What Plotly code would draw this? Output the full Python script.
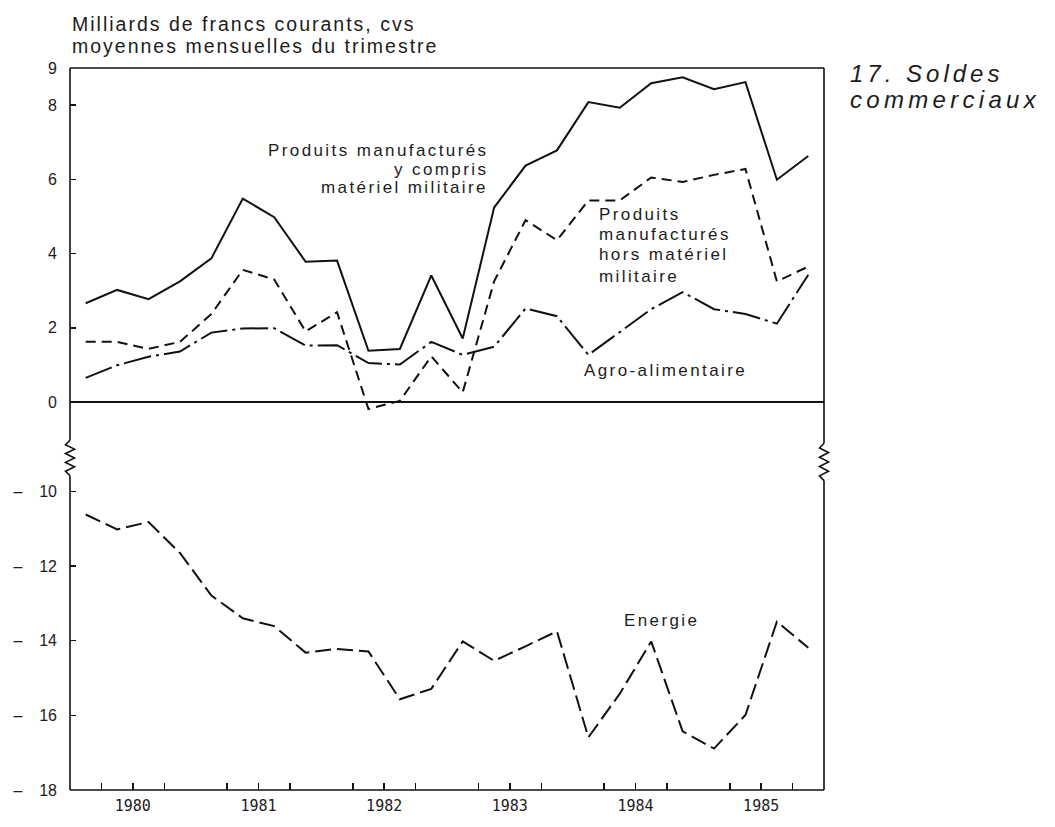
import plotly.graph_objects as go

# ---------------- data ----------------
quarters = [1980.125, 1980.375, 1980.625, 1980.875,
            1981.125, 1981.375, 1981.625, 1981.875,
            1982.125, 1982.375, 1982.625, 1982.875,
            1983.125, 1983.375, 1983.625, 1983.875,
            1984.125, 1984.375, 1984.625, 1984.875,
            1985.125, 1985.375, 1985.625, 1985.875]

manuf_total = [2.66, 3.02, 2.77, 3.25, 3.87, 5.48, 4.98, 3.78, 3.81, 1.38, 1.43, 3.41,
               1.71, 5.24, 6.37, 6.78, 8.08, 7.93, 8.59, 8.75, 8.43, 8.62, 5.99, 6.63]
manuf_hors = [1.62, 1.62, 1.43, 1.62, 2.37, 3.56, 3.30, 1.90, 2.42, -0.19, 0.03, 1.23,
              0.26, 3.25, 4.90, 4.36, 5.43, 5.43, 6.05, 5.93, 6.12, 6.28, 3.25, 3.65]
agro = [0.65, 0.99, 1.22, 1.36, 1.87, 1.98, 1.99, 1.52, 1.53, 1.05, 1.01, 1.62,
        1.27, 1.49, 2.52, 2.31, 1.27, 1.89, 2.50, 2.96, 2.50, 2.37, 2.11, 3.43]
energie = [-10.62, -11.02, -10.82, -11.65, -12.79, -13.40, -13.61, -14.32, -14.22, -14.29,
           -15.57, -15.29, -14.02, -14.54, -14.15, -13.75, -16.59, -15.42, -14.02, -16.43,
           -16.89, -15.99, -13.49, -14.19]

year_labels = ["1980", "1981", "1982", "1983", "1984", "1985"]
year_label_pos = [1980.5, 1981.5, 1982.5, 1983.5, 1984.5, 1985.5]
year_bounds = [1981, 1982, 1983, 1984, 1985]
quarter_ticks = [1980.25, 1980.75, 1981.25, 1981.75, 1982.25, 1982.75,
                 1983.25, 1983.75, 1984.25, 1984.75, 1985.25, 1985.75]
top_tickvals = [0, 2, 4, 6, 8, 9]
top_ticktext = ["0", "2", "4", "6", "8", "9"]
bot_tickvals = [-10, -12, -14, -16, -18]
bot_ticktext = ["\u2013\u2002\u00a0\u00a010", "\u2013\u2002\u00a0\u00a012",
                "\u2013\u2002\u00a0\u00a014", "\u2013\u2002\u00a0\u00a016",
                "\u2013\u2002\u00a0\u00a018"]

# ---------------- layout geometry ----------------
W, H = 1055, 827
L, R, T, B = 70, 824, 68, 803
SPLIT = 465


def px(x):
    return (x - L) / (R - L)


def py(y):
    return (B - y) / (B - T)


split = py(SPLIT)
INK = "#111111"
TXT = "#1c1c1c"
SANS = "Liberation Sans, Arial, Helvetica, sans-serif"

fig = go.Figure()

fig.add_trace(go.Scatter(x=quarters, y=manuf_total, xaxis="x", yaxis="y", mode="lines",
                         line=dict(color=INK, width=2), showlegend=False))
fig.add_trace(go.Scatter(x=quarters, y=manuf_hors, xaxis="x", yaxis="y", mode="lines",
                         line=dict(color=INK, width=2, dash="10px,6px"), showlegend=False))
fig.add_trace(go.Scatter(x=quarters, y=agro, xaxis="x", yaxis="y", mode="lines",
                         line=dict(color=INK, width=2, dash="28px,5px,3px,5px"), showlegend=False))
fig.add_trace(go.Scatter(x=quarters, y=energie, xaxis="x", yaxis="y2", mode="lines",
                         line=dict(color=INK, width=2, dash="16px,6px"), showlegend=False))

tickfont = dict(family=SANS, size=16, color=TXT)

fig.update_layout(
    width=W, height=H,
    margin=dict(l=L, r=W - R, t=T, b=H - B, pad=0),
    paper_bgcolor="white", plot_bgcolor="white",
    showlegend=False,
    xaxis=dict(domain=[0, 1], anchor="y2", range=[1980, 1986],
               tickmode="array", tickvals=year_label_pos, ticktext=year_labels,
               ticks="inside", ticklen=7, tickwidth=1.5, tickcolor=INK,
               tickfont=dict(family="DejaVu Sans Mono, monospace", size=15, color=TXT),
               ticklabelstandoff=5,
               minor=dict(tickmode="array", tickvals=quarter_ticks, ticks="inside",
                          ticklen=7, tickwidth=1.5, tickcolor=INK, showgrid=False),
               showgrid=False, zeroline=False, showline=False, fixedrange=True),
    xaxis2=dict(overlaying="x", anchor="y2", range=[1980, 1986],
                tickmode="array", tickvals=year_bounds, ticks="inside", ticklen=14,
                tickwidth=1.5, tickcolor=INK, showticklabels=False,
                showgrid=False, zeroline=False, showline=False),
    yaxis=dict(domain=[split, 1], anchor="x",
               range=[-(SPLIT - 408) / ((408 - T) / 9), 9],
               tickmode="array", tickvals=top_tickvals, ticktext=top_ticktext,
               ticks="inside", ticklen=6, tickwidth=1.5, tickcolor=INK,
               tickfont=tickfont, ticklabelstandoff=12,
               showgrid=False, showline=False,
               zeroline=True, zerolinecolor=INK, zerolinewidth=1.6),
    yaxis2=dict(domain=[0, split], anchor="x",
                range=[-18, -18 + (B - SPLIT) / 38.0],
                tickmode="array", tickvals=bot_tickvals, ticktext=bot_ticktext,
                ticks="inside", ticklen=6, tickwidth=1.5, tickcolor=INK,
                tickfont=tickfont, ticklabelstandoff=12,
                showgrid=False, showline=False, zeroline=False),
)

# ---------------- frame with axis-break marks ----------------
frame = dict(color=INK, width=1.6)


def seg(x0, y0, x1, y1):
    fig.add_shape(type="line", xref="paper", yref="paper",
                  x0=px(x0), y0=py(y0), x1=px(x1), y1=py(y1), line=frame)


def wiggle(xc, ytop, ybot, amp=4.5, n=7):
    pts = [(xc, ytop)]
    step = (ybot - ytop) / (n + 1)
    for k in range(n):
        off = -amp if k % 2 == 0 else amp
        pts.append((xc + off, ytop + step * (k + 1)))
    pts.append((xc, ybot))
    path = "M " + " L ".join(f"{px(a):.5f},{py(b):.5f}" for a, b in pts)
    fig.add_shape(type="path", xref="paper", yref="paper", path=path, line=frame)


seg(L, T, R, T)
seg(L, B, R, B)
seg(L, T, L, 447)
wiggle(L, 447, 483)
seg(L, 483, L, B)
seg(R, T, R, 450)
wiggle(R, 450, 488)
seg(R, 488, R, B)

# ---------------- text ----------------
def note(text, x, y, xanchor="left", size=17, spacing=2.4, italic=False):
    body = f'<span style="letter-spacing:{spacing}px">{text}</span>'
    if italic:
        body = f"<i>{body}</i>"
    fig.add_annotation(text=body, xref="paper", yref="paper", x=px(x), y=py(y),
                       xanchor=xanchor, yanchor="middle", showarrow=False,
                       font=dict(family=SANS, size=size, color=TXT))


# header
note("Milliards de francs courants, cvs", L, 23, size=19.5, spacing=2.0)
note("moyennes mensuelles du trimestre", L, 46, size=19.5, spacing=2.0)

# chart title on the right
note("17. Soldes", 848, 74, size=24, spacing=4.0, italic=True)
note("commerciaux", 848, 100, size=24, spacing=4.3, italic=True)

# series labels
note("Produits manufacturés", 490, 152, xanchor="right")
note("y compris", 490, 171, xanchor="right")
note("matériel militaire", 490, 190, xanchor="right")

note("Produits", 597, 217)
note("manufacturés", 597, 237)
note("hors matériel", 597, 258)
note("militaire", 597, 280)

note("Agro-alimentaire", 582, 376)
note("Energie", 622, 630)

fig.write_html("out.html",
               config={"displayModeBar": False, "staticPlot": True},
               post_script="document.body.style.margin='0';"
                           "document.body.style.overflow='hidden';")
